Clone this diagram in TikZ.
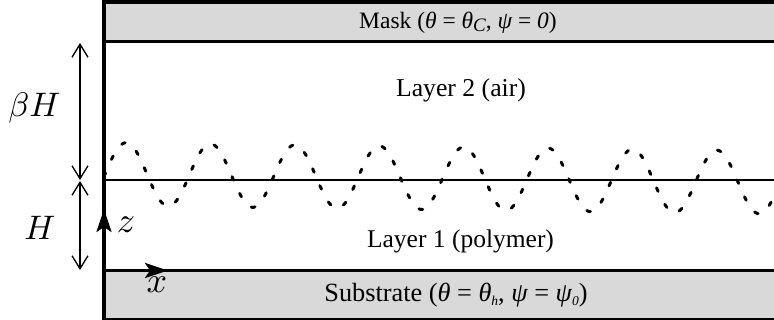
\documentclass[tikz,border=0pt]{standalone}
\usepackage{graphicx}
\usepackage{fontspec}
\setmainfont{Liberation Serif}
\usetikzlibrary{arrows.meta}
\definecolor{boxgray}{RGB}{217,217,217}
\newcommand\gk[1]{{\itshape #1}}
\newcommand\mysub[3]{\raisebox{#1}{\fontsize{#2}{#2}\selectfont\itshape #3}}
\tikzset{
  txt/.style={inner sep=0pt, anchor=base},
  mathlbl/.style={inner sep=0pt, anchor=base},
  dimarrow/.style={line width=1.3pt, {Straight Barb[length=13pt,width=16pt]}-{Straight Barb[length=13pt,width=16pt]}},
  axisarrow/.style={-{Stealth[length=23pt,width=15pt,inset=5pt]}},
  wave/.style={line width=3pt, line cap=round, dash pattern=on 3.8pt off 14.6pt},
}
\begin{document}
\begin{tikzpicture}[x=1pt,y=-1pt]
\useasboundingbox (0,0) rectangle (774,320);
\begin{scope}
\clip (0,0) rectangle (774,320);
% boxes
\fill[boxgray] (104,2) rectangle (790,41.5);
\fill[boxgray] (104,270.5) rectangle (790,330);
% wave
\draw[wave] plot[domain=104:790, samples=600, smooth] (\x,{174.2+0.0127*(\x-125)-31.5*sin(4.2654*(\x-105))});
% horizontal lines
\draw[line width=4pt] (102,2) -- (790,2);
\draw[line width=2.7pt] (104,41.5) -- (790,41.5);
\draw[line width=2pt] (104,180) -- (790,180);
\draw[line width=2.7pt] (104,270.5) -- (790,270.5);
\draw[line width=3pt] (104,320) -- (790,320);
% left border
\draw[line width=4pt] (104,0) -- (104,320);
% axes
\coordinate (o) at (104,270.5);
\coordinate (ztip) at (104,209);
\coordinate (xtip) at (168,270.5);
\draw[axisarrow, line width=3pt] (o) -- (ztip);
\draw[axisarrow, line width=2.7pt] (o) -- (xtip);
\end{scope}
% dimension arrows
\coordinate (bt) at (80,43);
\coordinate (bm) at (80,180);
\coordinate (hm) at (80,181);
\coordinate (hb) at (80,270);
\draw[dimarrow] (bt) -- (bm);
\draw[dimarrow] (hm) -- (hb);
% texts
\node[txt] (mask) at (458,28.3) {\fontsize{23.5}{27}\selectfont Mask (\gk{θ} = \gk{θ}\mysub{-3pt}{19}{C}, \gk{ψ} = \gk{0})};
\node[txt] (air) at (461,96.7) {\fontsize{25.7}{29}\selectfont Layer 2 (air)};
\node[txt] (poly) at (460.5,248) {\fontsize{25.5}{29}\selectfont Layer 1 (polymer)};
\node[txt] (sub) at (456,302) {\fontsize{26.3}{30}\selectfont Substrate (\gk{θ} = \gk{θ}\mysub{-4pt}{13.5}{h}, \gk{ψ} = \gk{ψ}\mysub{-4pt}{13.5}{0})};
\node[mathlbl] (lbh) at (34.5,116.7) {\scalebox{3.4}{$\beta H$}};
\node[mathlbl] (lh) at (40,240) {\scalebox{3.4}{$H$}};
\node[mathlbl] (lz) at (126,233) {\scalebox{3.6}{$z$}};
\node[mathlbl] (lx) at (157,293) {\scalebox{3.6}{$x$}};
\end{tikzpicture}
\end{document}
